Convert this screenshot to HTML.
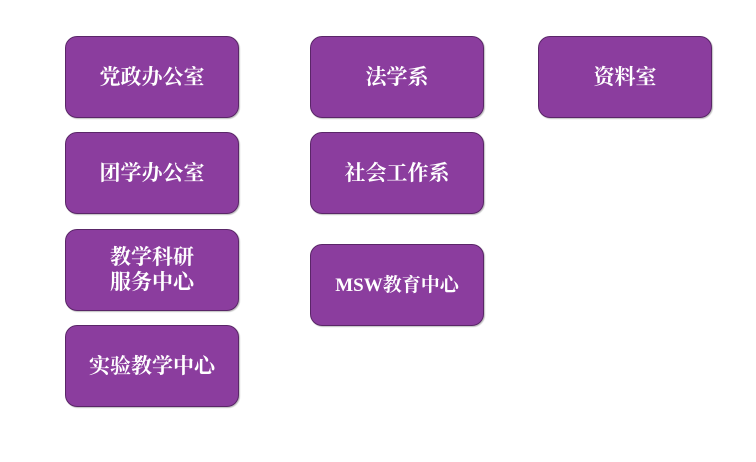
<!DOCTYPE html>
<html><head><meta charset="utf-8"><style>
body{margin:0;width:756px;height:462px;background:#fff;position:relative;overflow:hidden;font-family:"Liberation Serif","Noto Serif CJK SC",serif;}
.b{position:absolute;width:174px;height:82px;background:#8b3d9e;border:1px solid #5a2668;border-radius:12px;box-sizing:border-box;color:#fff;font-weight:bold;font-size:21px;display:flex;align-items:center;justify-content:center;text-align:center;line-height:25px;box-shadow:1px 1px 1px rgba(0,0,0,.25);}
</style></head><body>
<div class="b" style="left:65px;top:36px">党政办公室</div>
<div class="b" style="left:65px;top:132px">团学办公室</div>
<div class="b" style="left:65px;top:229px">教学科研<br>服务中心</div>
<div class="b" style="left:65px;top:325px">实验教学中心</div>
<div class="b" style="left:310px;top:36px">法学系</div>
<div class="b" style="left:310px;top:132px">社会工作系</div>
<div class="b" style="left:310px;top:244px;font-size:19px">MSW教育中心</div>
<div class="b" style="left:538px;top:36px">资料室</div>
</body></html>
